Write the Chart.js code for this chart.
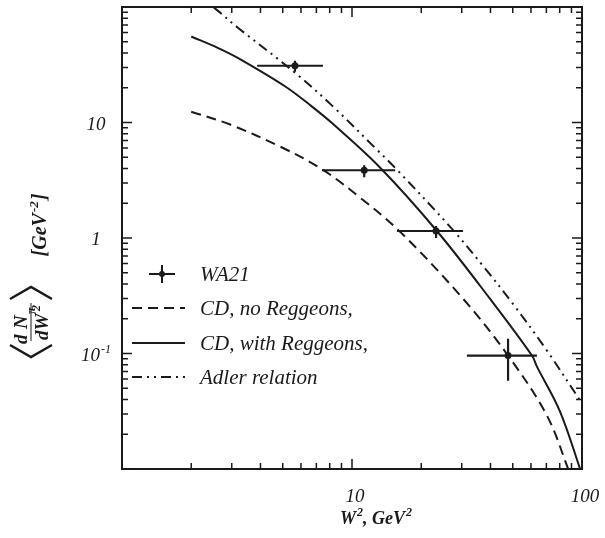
<!DOCTYPE html>
<html>
<head>
<meta charset="utf-8">
<script src="https://cdn.jsdelivr.net/npm/chart.js@4"></script>
<style>
  html, body { margin: 0; padding: 0; background: #fff; }
  #grafico { display: block; }
</style>
</head>
<body>
<canvas id="grafico" width="605" height="538"></canvas>
<script>
// WA21 data points with errors
const wa21W2 = [5.65, 11.3, 23.2, 47.7];
const wa21Val = [31, 3.86, 1.15, 0.096];
const wa21W2Lo = [3.87, 7.4, 15.7, 31.6];
const wa21W2Hi = [7.48, 15.4, 30.4, 63.7];
const wa21ValLo = [27.5, 3.36, 1.0, 0.058];
const wa21ValHi = [34.2, 4.26, 1.27, 0.134];

// CD, no Reggeons (dashed)
const noRegW2 = [2, 2.95, 4.86, 7.4, 10.8, 16.2, 30.4, 47.7, 70.4, 88];
const noRegVal = [12.4, 9.6, 6.2, 3.94, 2.25, 1.13, 0.298, 0.096, 0.029, 0.0095];

// CD, with Reggeons (solid)
const withRegW2 = [2, 2.62, 3.2, 5.11, 6.68, 8.16, 13.2, 23.4, 39.8, 60.6, 63.7, 80.2, 99];
const withRegVal = [55.5, 44.1, 36.1, 20.6, 13.8, 9.94, 4.1, 1.15, 0.298, 0.096, 0.077, 0.0316, 0.0095];

// Adler relation (dash-dot-dot)
const adlerW2 = [2, 2.59, 3.2, 5.65, 8.19, 12.8, 15.4, 27.2, 37.2, 50, 70.4, 100];
const adlerVal = [142, 94, 65.9, 27, 14.0, 5.85, 4.05, 1.2, 0.57, 0.27, 0.106, 0.037];

// axis labels
const xTickVals = [10, 100];
const xTickLabels = ['10', '100'];
const yTickVals = [10, 1, 0.1];
const yTickLabels = [['10', ''], ['1', ''], ['10', '-1']];
const legendLabels = ['WA21', 'CD, no Reggeons,', 'CD, with Reggeons,', 'Adler relation'];

const INK = '#1a1a1a';
const SERIF = '"Liberation Serif", "DejaVu Serif", serif';
const DASHED = [10, 6];
const DASHDOTDOT = [10, 5, 2, 5, 2, 5];

function pares(xs, ys) {
    return xs.map((x, i) => ({ x: x, y: ys[i] }));
}

// text with a superscript part
function textoSup(ctx, base, sup, x, y, size, weight, align) {
    ctx.font = `${weight} italic ${size}px ${SERIF}`;
    const w1 = ctx.measureText(base).width;
    ctx.font = `${weight} italic ${Math.round(size * 0.65)}px ${SERIF}`;
    const w2 = sup ? ctx.measureText(sup).width + 1 : 0;
    let x0 = x;
    if (align === 'center') x0 = x - (w1 + w2) / 2;
    ctx.textAlign = 'left';
    ctx.font = `${weight} italic ${size}px ${SERIF}`;
    ctx.fillText(base, x0, y);
    if (sup) {
        ctx.font = `${weight} italic ${Math.round(size * 0.65)}px ${SERIF}`;
        ctx.fillText(sup, x0 + w1 + 1, y - size * 0.42);
    }
    return x0 + w1 + w2;
}

const marco = {
    id: 'marco',
    afterDatasetsDraw(chart) {
        const { ctx, chartArea: a, scales: { x, y } } = chart;
        ctx.save();
        ctx.strokeStyle = INK;
        ctx.fillStyle = INK;

        // error bars
        ctx.lineWidth = 2.2;
        ctx.beginPath();
        wa21W2.forEach((w, i) => {
            const px = x.getPixelForValue(w);
            const py = y.getPixelForValue(wa21Val[i]);
            ctx.moveTo(x.getPixelForValue(wa21W2Lo[i]), py);
            ctx.lineTo(x.getPixelForValue(wa21W2Hi[i]), py);
            ctx.moveTo(px, y.getPixelForValue(wa21ValLo[i]));
            ctx.lineTo(px, y.getPixelForValue(wa21ValHi[i]));
        });
        ctx.stroke();

        // frame
        ctx.lineWidth = 2;
        ctx.strokeRect(a.left, a.top, a.right - a.left, a.bottom - a.top);

        // inward ticks on all four sides
        ctx.lineWidth = 1.5;
        ctx.beginPath();
        [1, 10].forEach(d => {
            for (let m = 2; m <= 10; m++) {
                const v = m * d;
                if (v > 100) continue;
                const px = x.getPixelForValue(v);
                const len = m === 10 ? 10 : 6;
                ctx.moveTo(px, a.bottom); ctx.lineTo(px, a.bottom - len);
                ctx.moveTo(px, a.top); ctx.lineTo(px, a.top + len);
            }
        });
        [0.01, 0.1, 1, 10].forEach(d => {
            for (let m = 1; m <= 9; m++) {
                const py = y.getPixelForValue(m * d);
                const len = m === 1 ? 10 : 6;
                ctx.moveTo(a.left, py); ctx.lineTo(a.left + len, py);
                ctx.moveTo(a.right, py); ctx.lineTo(a.right - len, py);
            }
        });
        ctx.stroke();

        // tick labels
        ctx.textBaseline = 'alphabetic';
        xTickVals.forEach((v, i) => {
            textoSup(ctx, xTickLabels[i], '', x.getPixelForValue(v) + 3, a.bottom + 33, 19, 'normal', 'center');
        });
        yTickVals.forEach((v, i) => {
            const [b, s] = yTickLabels[i];
            textoSup(ctx, b, s, 96, y.getPixelForValue(v) + 7, 19, 'normal', 'center');
        });

        // x title
        let xx = textoSup(ctx, 'W', '2', 340, 524, 18, 'bold', 'left');
        textoSup(ctx, ', GeV', '2', xx, 524, 18, 'bold', 'left');

        // y title: [GeV-2]
        ctx.save();
        ctx.translate(46, 225);
        ctx.rotate(-Math.PI / 2);
        ctx.font = `bold italic 20px ${SERIF}`;
        const w1 = ctx.measureText('[GeV').width;
        ctx.font = `bold italic 13px ${SERIF}`;
        const w2 = ctx.measureText('-2').width;
        ctx.font = `bold italic 20px ${SERIF}`;
        const w3 = ctx.measureText(']').width;
        let x0 = -(w1 + w2 + w3 + 2) / 2;
        ctx.fillText('[GeV', x0, 0);
        ctx.font = `bold italic 13px ${SERIF}`;
        ctx.fillText('-2', x0 + w1 + 1, -8);
        ctx.font = `bold italic 20px ${SERIF}`;
        ctx.fillText(']', x0 + w1 + w2 + 2, 0);
        ctx.restore();

        // y title: <dN_pi / dW^2>
        ctx.save();
        ctx.translate(31, 322);
        ctx.rotate(-Math.PI / 2);
        ctx.lineWidth = 2.4;
        ctx.beginPath();
        ctx.moveTo(-23, -21); ctx.lineTo(-35, 0); ctx.lineTo(-23, 21);
        ctx.moveTo(23, -21); ctx.lineTo(35, 0); ctx.lineTo(23, 21);
        ctx.stroke();
        ctx.lineWidth = 1;
        ctx.beginPath();
        ctx.moveTo(-19, 0); ctx.lineTo(19, 0);
        ctx.stroke();
        ctx.font = `bold italic 19px ${SERIF}`;
        ctx.fillText('d', -22, -4);
        ctx.fillText('N', -7, -4);
        ctx.font = `bold italic 12px ${SERIF}`;
        ctx.fillText('π', 8, 4);
        ctx.font = `bold italic 19px ${SERIF}`;
        ctx.fillText('dW', -18, 17);
        ctx.font = `bold italic 12px ${SERIF}`;
        ctx.fillText('2', 11, 9);
        ctx.restore();

        // legend
        const filas = [274, 308, 343, 377];
        ctx.lineWidth = 2;
        // WA21 cross
        ctx.beginPath();
        ctx.moveTo(149, filas[0]); ctx.lineTo(175, filas[0]);
        ctx.moveTo(162, filas[0] - 9); ctx.lineTo(162, filas[0] + 9);
        ctx.stroke();
        ctx.beginPath(); ctx.arc(162, filas[0], 3, 0, Math.PI * 2); ctx.fill();
        const estilos = [null, DASHED, [], DASHDOTDOT];
        for (let i = 1; i < 4; i++) {
            ctx.setLineDash(estilos[i]);
            ctx.beginPath();
            ctx.moveTo(132, filas[i]); ctx.lineTo(185, filas[i]);
            ctx.stroke();
        }
        ctx.setLineDash([]);
        ctx.font = `italic 21px ${SERIF}`;
        ctx.textAlign = 'left';
        legendLabels.forEach((t, i) => ctx.fillText(t, 200, filas[i] + 7));

        ctx.restore();
    }
};

const ctx = document.getElementById('grafico').getContext('2d');
const curva = {
    showLine: true,
    borderColor: INK,
    borderWidth: 2,
    pointRadius: 0,
    tension: 0.35,
};
const grafico = new Chart(ctx, {
    type: 'scatter',
    data: {
        datasets: [
            Object.assign({ label: 'CD, no Reggeons,', data: pares(noRegW2, noRegVal), borderDash: DASHED }, curva),
            Object.assign({ label: 'CD, with Reggeons,', data: pares(withRegW2, withRegVal) }, curva),
            Object.assign({ label: 'Adler relation', data: pares(adlerW2, adlerVal), borderDash: DASHDOTDOT }, curva),
            {
                label: 'WA21',
                data: pares(wa21W2, wa21Val),
                showLine: false,
                pointRadius: 3.5,
                pointBackgroundColor: INK,
                pointBorderColor: INK,
                borderWidth: 0,
            },
        ]
    },
    options: {
        responsive: false,
        animation: false,
        devicePixelRatio: 1,
        layout: { padding: { left: 122, top: 7, right: 23, bottom: 69 } },
        plugins: { legend: { display: false }, tooltip: { enabled: false } },
        scales: {
            x: { type: 'logarithmic', min: 1, max: 100, display: false },
            y: { type: 'logarithmic', min: 0.01, max: 100, display: false },
        }
    },
    plugins: [marco]
});
</script>
</body>
</html>
